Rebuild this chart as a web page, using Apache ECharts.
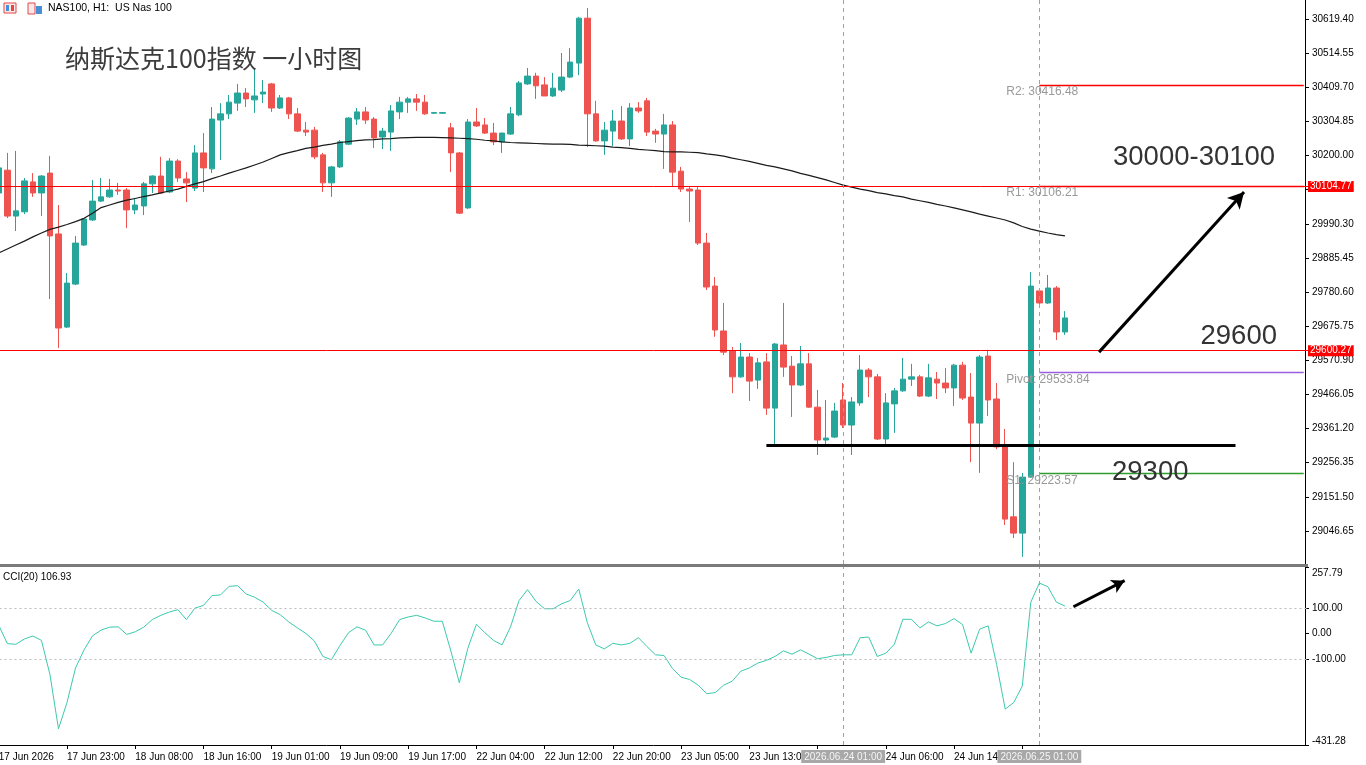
<!DOCTYPE html>
<html>
<head>
<meta charset="utf-8">
<script src="https://cdn.jsdelivr.net/npm/echarts@6/dist/echarts.min.js"></script>
<style>
html,body{margin:0;padding:0;background:#fff}
#main{width:1366px;height:765px}
</style>
</head>
<body>
<div id="main"></div>
<script>
// 蜡烛数据 (H1), 开 收 低 高
var candleOpen = [30085,30155,30014,30027,30119,30085,30146,29959,29673,29805,
  29925,30002,30060,30073,30094,30094,30033,30045,30113,30137,
  30088,30183,30128,30100,30208,30159,30309,30328,30361,30392,
  30371,30389,30420,30346,30377,30328,30278,30278,30202,30116,
  30165,30235,30312,30334,30312,30257,30272,30334,30364,30374,
  30364,30330,30330,30285,30208,30039,30303,30294,30269,30242,
  30266,30325,30420,30444,30417,30383,30401,30441,30484,30622,
  30328,30245,30275,30306,30251,30346,30368,30275,30266,30294,
  30152,30097,30094,29931,29799,29661,29600,29520,29581,29510,
  29566,29424,29618,29553,29495,29560,29427,29326,29335,29449,
  29372,29440,29541,29520,29329,29437,29477,29513,29520,29461,
  29513,29501,29486,29556,29458,29378,29584,29452,29305,29090,
  29040,29212,29784,29747,29793,29658];
var candleClose = [30162,30014,30030,30122,30085,30137,29953,29670,29808,29931,
  30005,30060,30073,30094,30091,30033,30048,30113,30137,30085,
  30183,30131,30116,30208,30162,30312,30328,30364,30392,30374,
  30383,30395,30346,30377,30328,30275,30272,30196,30116,30165,
  30242,30315,30334,30309,30254,30275,30337,30364,30374,30364,
  30328,30332,30332,30208,30023,30303,30291,30269,30242,30269,
  30328,30423,30444,30414,30383,30407,30441,30487,30622,30328,
  30245,30278,30306,30251,30346,30337,30272,30266,30294,30149,
  30097,30091,29931,29796,29664,29596,29520,29581,29507,29563,
  29424,29621,29550,29495,29560,29427,29326,29332,29415,29372,
  29443,29541,29520,29329,29440,29477,29513,29520,29461,29517,
  29501,29486,29556,29455,29378,29581,29449,29305,29083,29040,
  29212,29799,29747,29793,29658,29701];
var candleLow = [30076,30008,29968,30020,30073,30014,29759,29609,29670,29802,
  29922,29999,30057,30070,30079,29977,30020,30017,30085,30082,
  30085,30119,30057,30091,30088,30146,30186,30312,30337,30349,
  30331,30361,30334,30343,30312,30272,30260,30189,30088,30073,
  30162,30232,30294,30297,30223,30220,30214,30312,30331,30337,
  30325,30328,30328,30149,30020,30036,30288,30266,30232,30208,
  30263,30321,30417,30374,30383,30380,30395,30438,30447,30226,
  30242,30202,30229,30248,30229,30331,30260,30239,30159,30103,
  30088,29996,29925,29787,29643,29587,29470,29517,29446,29483,
  29403,29311,29520,29397,29492,29425,29280,29311,29332,29363,
  29280,29431,29458,29326,29311,29348,29474,29492,29458,29458,
  29452,29470,29431,29449,29258,29225,29400,29298,29065,29025,
  28967,29210,29744,29744,29633,29649];
var candleHigh = [30171,30208,30214,30131,30146,30140,30199,30048,29839,29953,
  30008,30125,30131,30128,30116,30100,30070,30119,30139,30196,
  30192,30189,30149,30232,30269,30349,30361,30386,30420,30407,
  30463,30432,30423,30386,30380,30346,30303,30288,30208,30168,
  30248,30318,30346,30349,30318,30285,30355,30380,30380,30389,
  30386,30334,30334,30300,30211,30312,30346,30315,30300,30270,
  30349,30429,30469,30454,30441,30454,30515,30530,30626,30653,
  30368,30303,30340,30352,30361,30364,30377,30282,30328,30306,
  30165,30103,30103,29962,29827,29747,29612,29624,29593,29578,
  29593,29624,29747,29584,29615,29593,29480,29449,29440,29501,
  29458,29587,29547,29529,29470,29486,29578,29560,29526,29560,
  29535,29547,29560,29566,29532,29587,29603,29501,29360,29258,
  29225,29842,29790,29833,29799,29722];

// 均线
var maValues = [29901,29913,29925,29937,29950,29962,29973,29980,29988,29997,
  30007,30023,30040,30048,30056,30063,30068,30074,30079,30085,
  30091,30097,30105,30113,30120,30129,30137,30146,30154,30162,
  30171,30180,30191,30202,30209,30215,30222,30226,30231,30235,
  30240,30243,30246,30248,30249,30251,30252,30254,30255,30256,
  30256,30256,30255,30254,30253,30252,30250,30247,30245,30242,
  30240,30239,30238,30237,30236,30235,30235,30234,30232,30231,
  30230,30229,30226,30224,30222,30219,30217,30215,30212,30211,
  30211,30210,30209,30205,30202,30198,30192,30187,30182,30176,
  30170,30165,30159,30153,30145,30139,30132,30125,30117,30109,
  30103,30097,30092,30086,30082,30077,30073,30066,30061,30056,
  30050,30045,30039,30033,30027,30020,30014,30008,30002,29993,
  29982,29974,29968,29962,29957,29953];

// CCI(20)
var cciValues = [32.5,-38.8,-41.4,-21.0,-9.5,-26.1,-158.6,-368.8,-266.9,-133.1,
  -63.0,-8.3,13.4,24.9,26.1,-3.2,7.0,24.9,54.2,70.7,
  83.5,92.4,54.2,98.7,108.9,147.1,149.7,182.8,185.4,153.5,
  140.8,121.7,89.8,73.3,45.2,22.3,0.7,-28.6,-88.5,-101.3,
  -46.5,3.2,26.1,13.4,-43.9,-43.9,0.7,54.2,64.3,70.7,
  60.5,47.8,47.8,-66.9,-190.4,-56.7,36.3,3.2,-26.1,-43.9,
  26.1,128.0,170.1,124.2,96.2,96.2,115.3,128.0,172.6,42.7,
  -43.9,-59.2,-37.6,-43.9,-37.6,-15.9,-50.3,-82.2,-84.7,-135.7,
  -168.8,-177.7,-199.4,-232.5,-228.7,-199.4,-184.1,-145.8,-133.1,-114.0,
  -103.8,-88.5,-66.9,-79.6,-63.0,-79.6,-97.4,-92.3,-84.7,-82.2,
  -82.2,-15.9,-13.4,-88.5,-75.8,-41.4,55.4,55.4,22.3,45.2,
  29.9,38.9,58.0,35.0,-75.8,17.2,29.9,-120.4,-292.3,-266.9,
  -203.2,121.7,195.6,181.5,121.7,106.93];

// 坐标轴刻度
var priceTicks = [30619.40,30514.55,30409.70,30304.85,30200.00,30095.15,29990.30,29885.45,
  29780.60,29675.75,29570.90,29466.05,29361.20,29256.35,29151.50,29046.65];
var cciTicks = [257.79,100,0,-100,-431.28];
var xTickIdx = [0,8,16,24,32,40,48,56,64,72,80,88,96,104,112,120];
var xTickText = ['17 Jun 2026','17 Jun 23:00','18 Jun 08:00','18 Jun 16:00','19 Jun 01:00',
  '19 Jun 09:00','19 Jun 17:00','22 Jun 04:00','22 Jun 12:00','22 Jun 20:00','23 Jun 05:00',
  '23 Jun 13:00','23 Jun 21:00','24 Jun 06:00','24 Jun 14:00','24 Jun 22:00'];

// 水平线 / 枢轴点 / 竖线
var levelValues = [30104.77, 29600.27];
var pivotNames = ['R2','R1','Pivot','S1'];
var pivotValues = [30416.48, 30106.21, 29533.84, 29223.57];
var pivotColors = ['#ff0000','#ff0000','#9a5fe0','#2f9e2f'];
var vLineIdx = ['99','122'];
var vLineText = ['2026.06.24 01:00','2026.06.25 01:00'];
var supportLine = {from:'90', to:'145', value:29310.7};
var annoText = ['30000-30100','29600','29300'];

var SLOTS = 154;
var cats = [];
for (var i = 0; i < SLOTS; i++) cats.push(String(i));

var candles = candleOpen.map(function(o, i){
  return [o, candleClose[i], candleLow[i], candleHigh[i]];
});

var FONT = 'Liberation Sans';

function isTick(idx){ return xTickIdx.indexOf(idx) >= 0; }

var mainLines = [];
levelValues.forEach(function(v){
  mainLines.push({yAxis: v, lineStyle:{color:'#ff0000', width:1, type:'solid'},
    label:{show:true, position:'end', formatter: v.toFixed(2), backgroundColor:'#ff0000',
      color:'#fff', padding:[1,2,0,2], fontSize:10, fontFamily:FONT, distance:0}});
});
pivotValues.forEach(function(v, k){
  var ls = {color:pivotColors[k], width:1.4, type:'solid', opacity:1};
  mainLines.push([{coord:['122', v], lineStyle:ls}, {coord:['153', v], lineStyle:ls}]);
});
vLineIdx.forEach(function(x){
  mainLines.push({xAxis:x, lineStyle:{color:'#a0a0a0', width:1, type:[4,4]}});
});
mainLines.push([{coord:[supportLine.from, supportLine.value], lineStyle:{color:'#000', width:3, type:'solid'}},
                {coord:[supportLine.to, supportLine.value]}]);
mainLines.push([{coord:['129', 29596], lineStyle:{color:'#000', width:3, type:'solid'}},
                {coord:['146', 30088], symbol:'arrow', symbolSize:[13,16]}]);

var pivotPoints = pivotValues.map(function(v, k){
  return {coord:['118', v], label:{formatter: pivotNames[k] + ': ' + v.toFixed(2)}};
});

var cciLines = [
  {yAxis:100, lineStyle:{color:'#bbbbbb', width:1, type:[2,3]}},
  {yAxis:-100, lineStyle:{color:'#bbbbbb', width:1, type:[2,3]}}
];
vLineIdx.forEach(function(x, k){
  cciLines.push({xAxis:x, lineStyle:{color:'#a0a0a0', width:1, type:[4,4]},
    label:{show:true, position:'start', formatter:vLineText[k], backgroundColor:'#a8a8a8',
      color:'#f5f5f5', padding:[2,3,1,3], fontSize:10, fontFamily:FONT, distance:5}});
});
cciLines.push([{coord:['126', 104], lineStyle:{color:'#000', width:3, type:'solid'}},
               {coord:['132', 205], symbol:'arrow', symbolSize:[11,13]}]);

function cciLabel(v){
  var s = v.toFixed(2);
  if (v === cciTicks[0]) return '{top|' + s + '}';
  if (v === cciTicks[cciTicks.length - 1]) return '{bot|' + s + '}';
  return s;
}

var myChart = echarts.init(document.getElementById('main'));
var option = {
  animation: false,
  backgroundColor: '#fff',
  grid: [
    {left:-5.5, right:58, top:0, height:564, outerBoundsMode:'none'},
    {left:-5.5, right:58, top:567, height:178, outerBoundsMode:'none'}
  ],
  xAxis: [
    {gridIndex:0, type:'category', data:cats, boundaryGap:true,
      axisLine:{show:false, onZero:false}, axisTick:{show:false}, axisLabel:{show:false}, splitLine:{show:false}},
    {gridIndex:1, type:'category', data:cats, boundaryGap:true, position:'bottom',
      axisLine:{show:true, onZero:false, lineStyle:{color:'#000', width:1}},
      axisTick:{show:true, alignWithLabel:true, interval:isTick, length:4, lineStyle:{color:'#000'}},
      axisLabel:{interval:isTick, align:'left', margin:7, fontSize:10, fontFamily:FONT, color:'#000',
        formatter:function(v, idx){ var k = xTickIdx.indexOf(idx); return k >= 0 ? xTickText[k] : ''; }},
      splitLine:{show:false}}
  ],
  yAxis: [
    {gridIndex:0, type:'value', position:'right', min:28945.1, max:30677.8, offset:-3,
      axisLine:{show:true, lineStyle:{color:'#000'}},
      axisTick:{show:true, length:4, customValues:priceTicks, lineStyle:{color:'#000'}},
      axisLabel:{customValues:priceTicks, margin:7, fontSize:10, fontFamily:FONT, color:'#000',
        formatter:function(v){ return v.toFixed(2); }},
      splitLine:{show:false}},
    {gridIndex:1, type:'value', position:'right', min:-431.28, max:257.79, offset:-3,
      axisLine:{show:true, lineStyle:{color:'#000'}},
      axisTick:{show:true, length:4, customValues:cciTicks, lineStyle:{color:'#000'}},
      axisLabel:{customValues:cciTicks, margin:7, fontSize:10, fontFamily:FONT, color:'#000',
        formatter:cciLabel,
        rich:{top:{padding:[13,0,0,0], fontSize:10, fontFamily:FONT, color:'#000'},
              bot:{padding:[0,0,8,0], fontSize:10, fontFamily:FONT, color:'#000'}}},
      splitLine:{show:false}}
  ],
  series: [
    {
      name:'NAS100', type:'candlestick', xAxisIndex:0, yAxisIndex:0,
      data:candles, barWidth:6,
      itemStyle:{color:'#26a69a', color0:'#ef5350', borderColor:'#26a69a', borderColor0:'#ef5350', borderWidth:1},
      markLine:{silent:true, symbol:['none','none'], label:{show:false}, data:mainLines},
      markPoint:{silent:true, symbol:'circle', symbolSize:0,
        label:{show:true, position:'right', distance:1, offset:[0,7], color:'#9a9a9a', fontSize:12, fontFamily:FONT},
        data:pivotPoints}
    },
    {
      name:'MA', type:'line', xAxisIndex:0, yAxisIndex:0, data:maValues,
      showSymbol:false, z:3, lineStyle:{color:'#1a1a1a', width:1.2}
    },
    {
      name:'CCI(20)', type:'line', xAxisIndex:1, yAxisIndex:1, data:cciValues,
      showSymbol:false, lineStyle:{color:'#3cc9ad', width:1},
      markLine:{silent:true, symbol:['none','none'], label:{show:false}, data:cciLines}
    }
  ],
  graphic: [
    {type:'rect', shape:{x:0, y:564, width:1308, height:3}, style:{fill:'#7a7a7a'}, z:10},
    {type:'rect', shape:{x:4, y:3, width:12, height:10}, style:{fill:'#fde8e8', stroke:'#e04848', lineWidth:1}},
    {type:'rect', shape:{x:6, y:5, width:3, height:6}, style:{fill:'#4a8fd6'}},
    {type:'rect', shape:{x:11, y:5, width:3, height:6}, style:{fill:'#e04848'}},
    {type:'rect', shape:{x:28, y:3, width:7, height:11}, style:{fill:'#fde8e8', stroke:'#e04848', lineWidth:1}},
    {type:'rect', shape:{x:36, y:6, width:6, height:8}, style:{fill:'#4a8fd6'}},
    {type:'text', x:48, y:8, style:{text:'NAS100, H1:  US Nas 100', font:'10.5px "' + FONT + '"', fill:'#000', verticalAlign:'middle'}},
    {type:'text', x:65, y:58, z:10, style:{text:'纳斯达克100指数 一小时图', font:'25px "Noto Sans CJK SC"', fill:'#3c3c3c', verticalAlign:'middle'}},
    {type:'text', x:3, y:577, style:{text:'CCI(20) 106.93', font:'10px "' + FONT + '"', fill:'#000', verticalAlign:'middle'}},
    {type:'text', x:1113, y:157, z:10, style:{text:annoText[0], font:'27.5px "' + FONT + '"', fill:'#333', verticalAlign:'middle'}},
    {type:'text', x:1277, y:336, z:10, style:{text:annoText[1], font:'27.5px "' + FONT + '"', fill:'#333', align:'right', verticalAlign:'middle'}},
    {type:'text', x:1112, y:472, z:10, style:{text:annoText[2], font:'27.5px "' + FONT + '"', fill:'#333', verticalAlign:'middle'}}
  ]
};
myChart.setOption(option);
</script>
</body>
</html>
